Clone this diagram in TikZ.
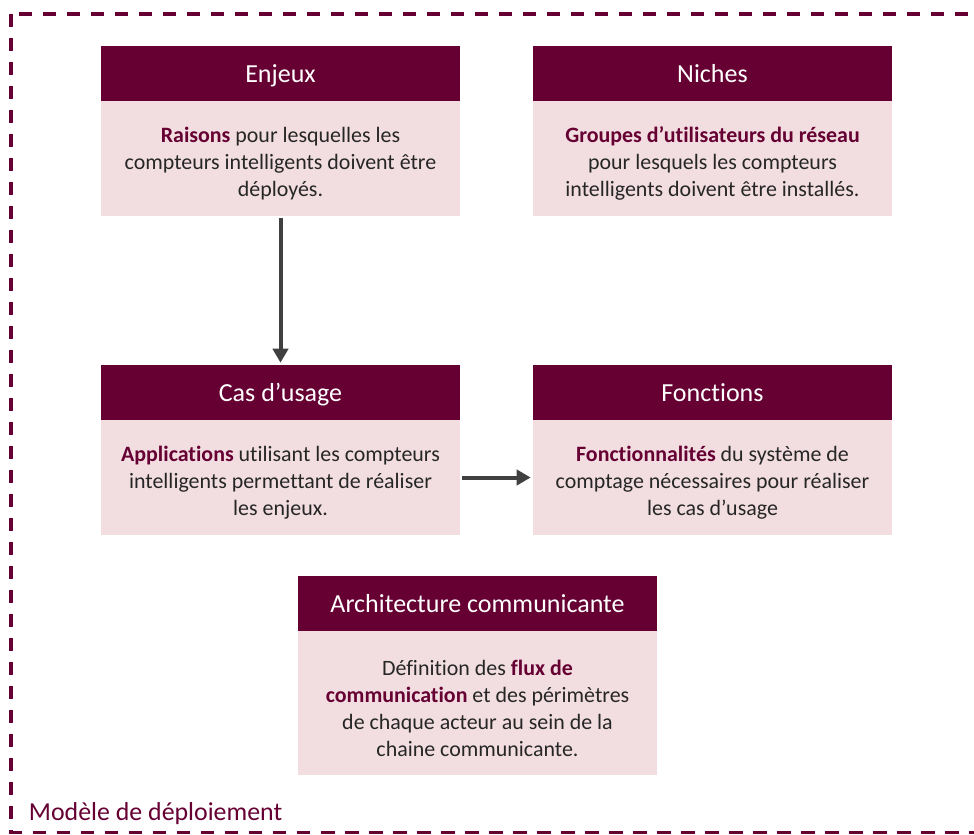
\documentclass[tikz,border=0pt]{standalone}
\usepackage{fontspec}
\setmainfont{Carlito}[Ligatures=NoCommon]
\usetikzlibrary{arrows.meta}
\definecolor{bordeaux}{HTML}{660033}
\definecolor{rosepale}{HTML}{F2DEE1}
\definecolor{gristexte}{HTML}{262626}
\definecolor{grisfleche}{HTML}{404040}
\tikzset{
  entete/.style={fill=bordeaux, text=white, minimum width=8.975cm, minimum height=1.375cm, inner sep=0pt, text height=13pt, text depth=0pt, font=\fontsize{18.5}{21}\selectfont},
  corps/.style={fill=rosepale, text=gristexte, minimum width=8.975cm, minimum height=2.875cm, inner sep=0pt, align=center, font=\fontsize{15.6}{19.2}\selectfont},
  fleche/.style={line width=0.1cm, color=grisfleche, shorten <=0.05cm, shorten >=0.05cm, -{Triangle[length=0.35cm,width=0.38cm]}},
}
\newcommand{\mot}[1]{\textbf{\color{bordeaux}#1}}
\newcommand{\haut}{\rule{0pt}{18pt}}

\begin{document}
\begin{tikzpicture}[x=0.025cm, y=-0.025cm]
  %%%%% START %%%%%
  \useasboundingbox (0, 0) rectangle (974, 835);

  \draw[bordeaux, line width=0.075cm, dash pattern=on 0.33cm off 0.27cm] (11, 14) rectangle (980, 832);

  % ligne du haut
  \node[entete] (enjeuxHead) at (280.5, 73.5) {Enjeux};
  \node[corps] (enjeuxBody) at (280.5, 158.5) {\haut\mot{Raisons} pour lesquelles les\\ compteurs intelligents doivent être\\ déployés.};

  \node[entete] (nichesHead) at (712.5, 73.5) {Niches};
  \node[corps] (nichesBody) at (712.5, 158.5) {\haut\mot{Groupes d’utilisateurs du réseau}\\ pour lesquels les compteurs\\ intelligents doivent être installés.};

  % ligne du milieu
  \node[entete] (casHead) at (280.5, 392.5) {Cas d’usage};
  \node[corps] (casBody) at (280.5, 477.5) {\haut\mot{Applications} utilisant les compteurs\\ intelligents permettant de réaliser\\ les enjeux.};

  \node[entete] (fonctionsHead) at (712.5, 392.5) {Fonctions};
  \node[corps] (fonctionsBody) at (712.5, 477.5) {\haut\mot{Fonctionnalités} du système de\\ comptage nécessaires pour réaliser\\ les cas d’usage};

  % architecture
  \node[entete] (archiHead) at (477.5, 603.5) {Architecture communicante};
  \node[corps, minimum height=3.6cm] (archiBody) at (477.5, 703) {\haut Définition des \mot{flux de}\\ \mot{communication} et des périmètres\\ de chaque acteur au sein de la\\ chaine communicante.};

  \draw[fleche] (enjeuxBody.south) -- (casHead.north);
  \draw[fleche] (casBody.east) -- (fonctionsBody.west);

  \node[anchor=west, text=bordeaux, font=\fontsize{18.4}{21}\selectfont] (modele) at (24, 814) {Modèle de déploiement};
  %%%%% END %%%%%
\end{tikzpicture}
\end{document}
